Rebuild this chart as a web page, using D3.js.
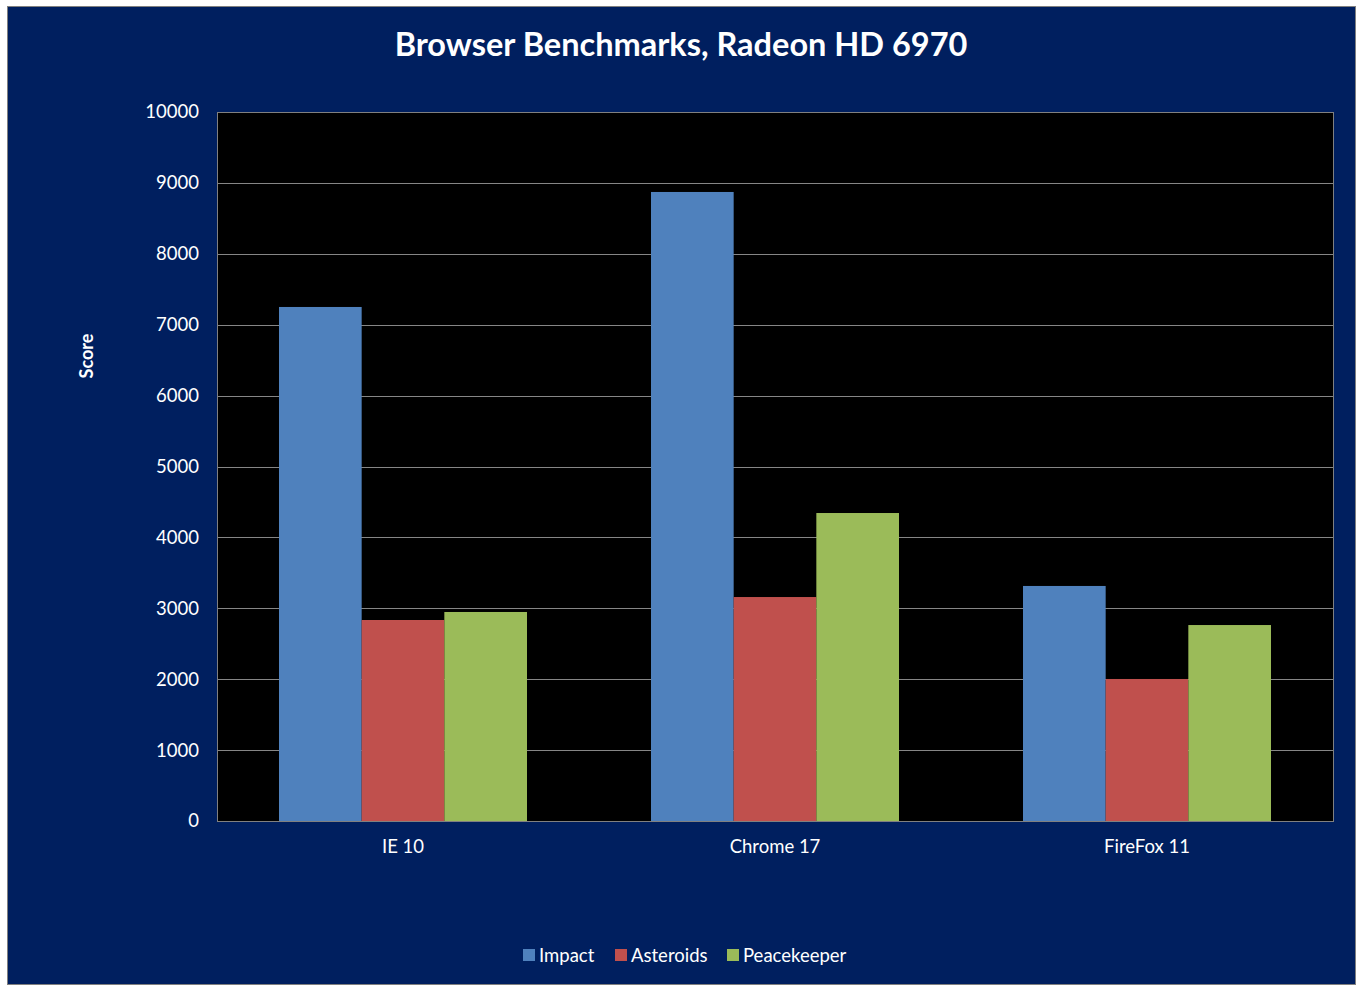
<!DOCTYPE html>
<html><head><meta charset="utf-8">
<script src="https://cdn.jsdelivr.net/npm/d3@7"></script>
<style>html,body{margin:0;padding:0;background:#fff;}svg{display:block;}</style>
</head><body>
<script>
const categories = ["IE 10", "Chrome 17", "FireFox 11"];
const seriesNames = ["Impact", "Asteroids", "Peacekeeper"];
const impact = [7250, 8872, 3315];
const asteroids = [2835, 3159, 2003];
const peacekeeper = [2948, 4344, 2764];
const yTicks = [0, 1000, 2000, 3000, 4000, 5000, 6000, 7000, 8000, 9000, 10000];
const colors = ["#4F81BD", "#C0504D", "#9BBB59"];
const seriesValues = [impact, asteroids, peacekeeper];

const W = 1361, H = 993;
const svg = d3.select("body").append("svg").attr("width", W).attr("height", H);
const font = "Lato, 'Open Sans', sans-serif";

svg.append("rect").attr("x", 7.5).attr("y", 6.5).attr("width", 1348).attr("height", 978)
  .attr("fill", "#001F5F").attr("stroke", "#808080").attr("stroke-width", 1);

const plot = {l: 217, t: 112, r: 1333, b: 821};
const y = d3.scaleLinear().domain([0, 10000]).range([plot.b, plot.t]);
const x0 = d3.scaleBand().domain(categories).range([plot.l, plot.r]).padding(0);
const x1 = d3.scaleBand().domain(seriesNames).range([0, x0.bandwidth()]).paddingInner(0).paddingOuter(0.75);

svg.append("rect").attr("x", plot.l + 0.5).attr("y", plot.t + 0.5)
  .attr("width", plot.r - plot.l).attr("height", plot.b - plot.t).attr("fill", "#000");

// gridlines
svg.append("g").selectAll("line").data(yTicks.filter(d => d > 0)).join("line")
  .attr("x1", plot.l).attr("x2", plot.r)
  .attr("y1", d => Math.round(y(d)) + 0.5).attr("y2", d => Math.round(y(d)) + 0.5)
  .attr("stroke", "#868686").attr("stroke-width", 1);

// bars
const rows = categories.map((c, i) => ({c, vals: seriesNames.map((s, j) => ({s, j, v: seriesValues[j][i]}))}));
const g = svg.append("g").selectAll("g").data(rows).join("g")
  .attr("transform", d => `translate(${x0(d.c)},0)`);
g.selectAll("rect").data(d => d.vals).join("rect")
  .attr("x", d => x1(d.s)).attr("width", x1.bandwidth())
  .attr("y", d => y(d.v)).attr("height", d => y(0) - y(d.v))
  .attr("fill", d => colors[d.j]);

// plot border
svg.append("rect").attr("x", plot.l + 0.5).attr("y", plot.t + 0.5)
  .attr("width", plot.r - plot.l).attr("height", plot.b - plot.t)
  .attr("fill", "none").attr("stroke", "#808080");

// y axis
const yAxis = d3.axisLeft(y).tickValues(yTicks).tickFormat(d3.format("d")).tickSize(0).tickPadding(18);
const ya = svg.append("g").attr("transform", `translate(${plot.l},0)`).call(yAxis);
ya.select(".domain").remove();
ya.selectAll("text").attr("fill", "#fff").attr("font-family", font).attr("font-size", 18.5);

// x axis
const xAxis = d3.axisBottom(x0).tickSize(0).tickPadding(19);
const xa = svg.append("g").attr("transform", `translate(0,${plot.b})`).call(xAxis);
xa.select(".domain").remove();
xa.selectAll("text").attr("fill", "#fff").attr("font-family", font).attr("font-size", 18.5);

// title
svg.append("text").attr("x", 681).attr("y", 56).attr("text-anchor", "middle")
  .attr("fill", "#fff").attr("font-family", font).attr("font-weight", "bold").attr("font-size", 32.5)
  .text("Browser Benchmarks, Radeon HD 6970");

// y axis title
svg.append("text").attr("transform", "translate(93,356) rotate(-90)").attr("text-anchor", "middle")
  .attr("fill", "#fff").attr("font-family", font).attr("font-weight", "bold").attr("font-size", 18)
  .text("Score");

// legend
const legendX = [523, 615, 727];
const lg = svg.append("g").selectAll("g").data(seriesNames).join("g")
  .attr("transform", (d, i) => `translate(${legendX[i]},949)`);
lg.append("rect").attr("width", 12).attr("height", 12).attr("fill", (d, i) => colors[i]);
lg.append("text").attr("x", 16).attr("y", 12.5).attr("fill", "#fff")
  .attr("font-family", font).attr("font-size", 18.5).text(d => d);
</script>
</body></html>
